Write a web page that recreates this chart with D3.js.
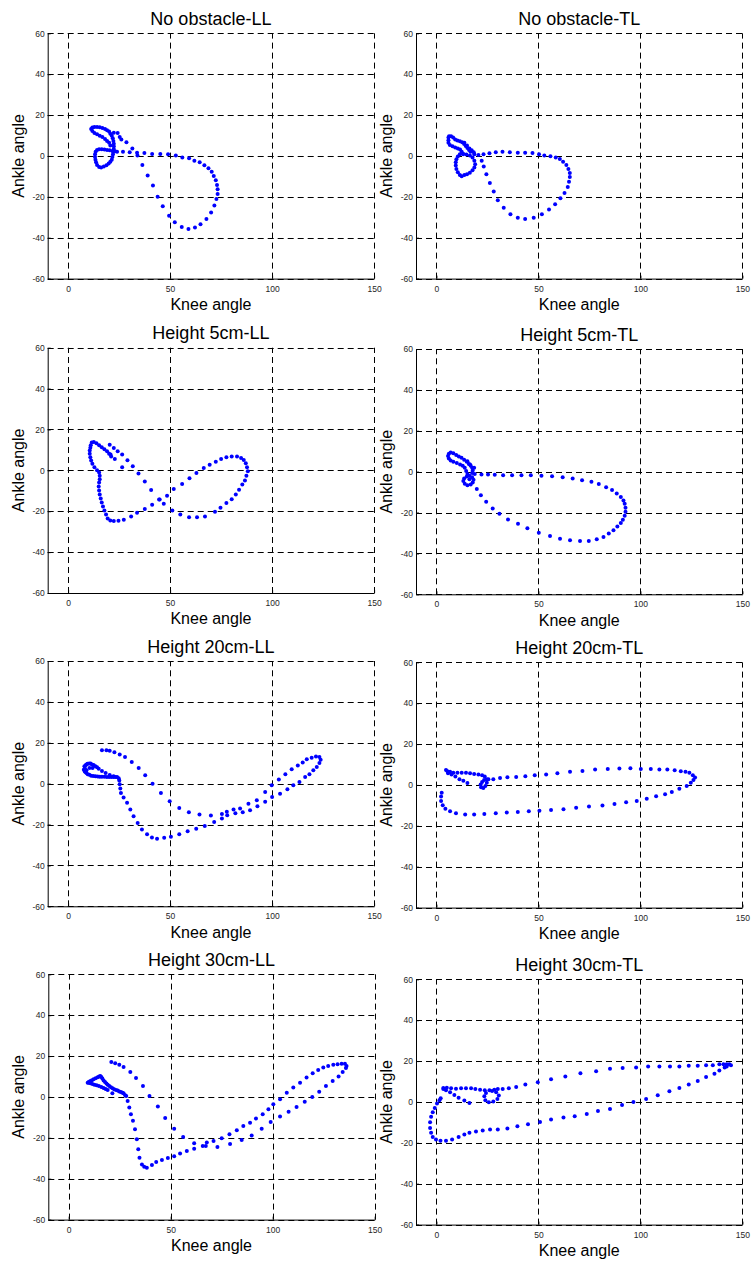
<!DOCTYPE html>
<html>
<head>
<meta charset="utf-8">
<script src="https://cdnjs.cloudflare.com/ajax/libs/d3/7.8.5/d3.min.js"></script>
<style>
body { margin: 0; background: #fff; }
text { font-family: "Liberation Sans", Arial, sans-serif; }
</style>
</head>
<body>
<div id="chart"></div>
<script>
// knee angle (x) vs ankle angle (y), one array per panel

var titles = ['No obstacle-LL', 'No obstacle-TL', 'Height 5cm-LL', 'Height 5cm-TL',
  'Height 20cm-LL', 'Height 20cm-TL', 'Height 30cm-LL', 'Height 30cm-TL'];
var xTicks = [0, 50, 100, 150];
var yTicks = [-60, -40, -20, 0, 20, 40, 60];
var xDomain = [-10, 150], yDomain = [-60, 60];

var noObstacleLL = [
  [11.3,13.2],[11.9,13.9],[12.9,14.2],[14.2,14.2],[15.5,14.0],[16.8,13.7],[18.1,13.2],[19.1,12.6],[20.1,11.9],[20.7,10.9],
  [21.4,9.9],[21.9,8.6],[22.2,7.3],[22.4,6.0],[22.4,4.7],[22.4,3.4],[22.2,2.1],[22.0,0.8],[21.7,-0.5],[21.4,-1.8],
  [20.7,-2.8],[19.9,-3.7],[18.8,-4.6],[17.5,-5.2],[16.2,-5.7],[15.2,-5.4],[14.2,-4.4],[13.7,-3.1],[13.4,-1.8],[13.2,-0.5],
  [13.2,0.8],[13.5,2.1],[14.2,2.9],[15.2,3.3],[16.5,3.3],[17.8,3.1],[19.1,2.9],[20.4,2.8],[21.7,2.4],[23.0,2.3],
  [11.9,12.2],[12.9,11.2],[14.2,10.6],[15.5,9.9],[16.8,9.3],[18.1,8.3],[19.1,7.3],[20.1,6.4],[20.7,5.1],
  [22.4,11.4],[24.3,11.2],[25.3,9.3],[26.1,8.0],[28.6,6.7],[31.5,3.7],
  [24.0,2.1],[26.9,2.1],[30.2,1.8],[33.8,1.6],[37.4,1.5],[41.2,1.0],[45.2,1.0],[49.0,0.8],[52.8,0.2],[56.0,-0.7],
  [59.3,-1.1],[61.9,-2.4],[64.5,-3.1],[66.8,-4.6],[68.8,-6.0],[70.4,-7.7],[71.4,-9.8],[72.4,-11.9],[73.0,-14.2],[73.3,-16.3],
  [73.3,-18.6],[72.7,-21.0],[71.7,-24.3],[70.1,-27.7],[67.8,-30.8],[64.9,-33.4],[62.2,-35.0],[59.0,-35.7],[55.7,-34.7],[52.3,-32.4],
  [49.5,-29.2],[46.4,-24.6],[43.9,-20.0],[41.6,-14.5],[39.0,-9.6],[36.4,-4.4],[34.0,0.2]
];

var noObstacleTL = [
  [5.9,9.0],[6.2,9.6],[7.2,9.6],[8.2,9.0],[9.2,8.0],[10.3,7.5],[11.5,7.2],[12.6,6.7],[13.6,5.9],[14.4,4.9],
  [15.2,3.9],[16.0,2.9],[16.7,2.1],[5.9,7.7],[5.9,6.4],[6.6,5.4],[7.9,4.7],[9.2,4.1],[10.5,3.6],[11.6,3.1],
  [12.4,2.1],[13.1,1.1],[13.7,6.4],[15.0,5.1],[16.2,3.7],[17.3,2.8],[18.3,1.8],
  [11.5,0.8],[10.5,-0.3],[9.8,-1.6],[9.5,-3.1],[9.5,-4.7],[9.8,-6.4],[10.5,-8.0],[11.5,-9.3],[12.4,-9.9],[13.7,-9.3],
  [15.0,-9.0],[16.4,-8.2],[17.7,-7.0],[18.6,-5.7],[19.0,-4.1],[18.6,-2.4],[17.7,-0.8],[16.4,0.2],[14.7,0.7],[13.1,0.8],[18.6,0.8],
  [20.6,0.5],[23.1,0.8],[26.0,1.3],[29.1,1.8],[32.4,2.0],[36.0,1.8],[39.9,1.6],[43.5,1.6],[47.1,1.5],[50.3,0.8],
  [52.9,0.2],[55.9,-0.2],[58.5,-0.8],[60.5,-1.5],[62.1,-2.8],[63.7,-4.4],[64.7,-6.4],[65.4,-8.3],[65.4,-10.3],[65.0,-12.6],
  [64.4,-15.2],[62.8,-18.1],[60.8,-20.7],[58.2,-23.6],[55.2,-26.2],[51.7,-28.5],[47.7,-30.2],[43.5,-30.8],[39.9,-30.2],[36.3,-28.5],
  [33.0,-25.3],[30.1,-21.7],[28.1,-17.4],[26.2,-13.2],[24.5,-9.0],[23.2,-5.2],[22.2,-2.3]
];

var height5LL = [
  [11.6,13.6],[12.6,13.9],[13.9,13.3],[15.2,12.3],[16.5,11.3],[17.8,10.3],[19.1,9.4],[20.1,8.1],[21.1,6.8],
  [11.1,12.3],[10.9,11.0],[10.6,9.7],[10.6,8.1],[10.9,6.4],[11.3,4.8],[11.9,3.2],[12.9,1.5],[14.2,0.1],[15.2,-1.1],
  [15.5,-2.7],[15.5,-4.3],[15.2,-5.9],[15.0,-7.9],[15.2,-9.9],[15.5,-11.8],[16.0,-13.8],[16.5,-15.7],[17.1,-17.7],[17.8,-19.6],
  [18.6,-21.6],[19.4,-23.5],[20.7,-24.5],[22.4,-24.8],[24.7,-24.7],[27.3,-24.2],[30.9,-22.6],[33.8,-20.8],[37.6,-18.9],[41.2,-16.8],
  [44.6,-14.3],[48.5,-12.4],[51.8,-9.1],[55.9,-6.7],[59.5,-3.9],[62.9,-1.3],[66.5,1.1],[69.4,2.8],[72.4,4.2],[75.0,5.5],
  [77.6,6.4],[80.2,6.8],[82.8,6.8],[84.8,6.1],[86.1,5.1],[87.1,3.5],[87.7,1.5],[88.1,-0.4],[87.4,-2.7],[86.7,-5.0],
  [85.4,-6.9],[83.8,-9.5],[82.2,-11.8],[80.2,-14.1],[77.6,-16.0],[74.7,-18.3],[72.0,-20.3],[67.1,-22.6],[63.2,-22.9],[59.3,-22.9],
  [55.0,-21.6],[51.1,-19.6],[46.9,-16.3],[44.9,-14.3],[40.7,-9.6],[37.6,-5.4],[34.5,-1.6],[31.7,2.0],[29.1,4.9],[26.5,7.7],
  [24.3,9.3],[22.4,10.9],[20.4,12.5],[20.8,7.7],[22.9,5.5],[26.5,1.5]
];

var height5TL = [
  [5.7,7.7],[6.1,8.7],[7.0,9.4],[8.3,9.0],[9.7,8.1],[11.0,7.4],[12.3,6.8],[13.6,5.8],[14.9,4.8],[15.9,3.8],
  [16.8,2.9],[17.5,1.9],[17.8,0.6],[17.5,-0.7],[6.1,6.4],[7.0,5.5],[8.3,4.8],[10.0,4.2],[11.6,3.5],[12.9,2.9],
  [13.9,1.9],[14.6,0.3],[15.2,-1.1],[13.6,-3.3],[13.2,-4.6],[13.9,-5.9],[15.2,-6.6],[16.8,-6.3],[17.8,-5.3],[18.2,-4.0],
  [17.5,-2.7],[16.2,-2.0],[14.9,-2.4],[16.2,-3.7],[15.2,5.1],[16.5,3.5],[18.5,1.9],[18.8,-1.1],
  [22.1,-1.4],[25.3,-1.4],[28.6,-1.5],[32.7,-1.7],[37.1,-1.8],[41.7,-1.8],[46.3,-1.8],[51.5,-2.0],[56.7,-2.2],[61.9,-2.7],
  [66.8,-3.3],[71.4,-4.2],[76.0,-5.0],[79.6,-6.1],[83.2,-7.6],[86.1,-9.0],[88.4,-10.7],[90.4,-12.4],[91.7,-14.1],[92.3,-15.7],
  [92.7,-17.7],[92.7,-19.6],[92.3,-21.6],[91.4,-23.5],[90.4,-25.1],[88.7,-26.8],[86.8,-28.7],[84.5,-30.3],[81.9,-32.0],[78.6,-33.1],
  [74.7,-33.9],[70.4,-33.9],[65.5,-33.6],[60.6,-32.8],[55.7,-31.5],[50.2,-29.9],[44.6,-27.7],[40.0,-25.5],[35.1,-23.4],[30.9,-20.6],
  [27.6,-18.0],[24.4,-14.7],[21.8,-11.5],[19.8,-8.5]
];

var height20LL = [
  [16.6,16.3],[18.8,16.3],[20.4,16.1],[22.7,15.3],[25.3,14.2],[27.9,13.0],[31.2,10.6],[34.6,7.6],[37.8,4.1],[41.4,0.0],
  [45.5,-4.6],[49.8,-8.6],[54.5,-11.9],[59.2,-14.0],[64.4,-15.1],[70.0,-15.6],[75.4,-14.8],[77.8,-13.8],[81.1,-12.7],[84.3,-12.2],
  [88.4,-9.8],[92.5,-8.1],[96.6,-4.1],[99.8,-0.8],[103.3,2.0],[106.5,4.6],[109.6,7.0],[112.6,8.9],[115.0,10.4],[117.0,11.9],
  [119.4,12.7],[121.5,13.3],[123.2,13.0],[123.8,11.7],[123.2,10.1],[121.9,8.1],[120.2,6.5],[118.3,4.6],[116.2,3.3],[113.4,0.8],
  [110.4,-0.8],[107.5,-2.8],[103.9,-4.9],[100.0,-6.5],[96.6,-8.9],[92.8,-11.1],[89.2,-13.0],[85.6,-14.0],[82.0,-14.5],[78.0,-15.5],
  [75.4,-17.1],[71.6,-18.7],[67.0,-20.7],[62.8,-22.1],[58.6,-23.3],[54.5,-24.7],[50.4,-26.0],[47.1,-26.5],[43.6,-27.0],[41.1,-26.3],
  [38.7,-24.7],[36.2,-22.4],[34.1,-19.2],[32.1,-15.9],[30.5,-12.7],[28.9,-9.4],[27.2,-6.8],[25.9,-4.6],[25.6,-2.4],[25.3,-0.3],
  [25.1,1.6],[7.7,6.8],[8.0,8.5],[9.0,9.4],[10.3,9.8],[11.7,9.4],[13.4,8.5],[15.0,7.3],[16.6,6.2],[18.4,5.2],
  [20.4,4.2],[22.3,3.6],[24.0,3.3],[24.8,2.6],[8.5,5.7],[9.6,4.6],[11.3,3.9],[13.4,3.6],[15.5,3.4],[17.8,3.4],
  [20.1,3.3],[22.3,3.3],[9.0,6.5],[10.5,7.6],[12.0,7.6],
  [8.2,7.5],[8.6,9.0],[9.5,9.7],[11.0,9.8],[12.5,9.1],[14.2,8.0],[8.2,6.0],[9.0,5.2],[10.4,4.3],[12.3,3.7],
  [14.5,3.5],[16.6,3.4],[19.0,3.3],[21.2,3.3],[23.2,3.3]
];

var height20TL = [
  [27.9,2.8],[31.2,3.4],[34.8,3.8],[39.1,3.9],[43.6,4.2],[48.2,4.7],[53.8,5.1],[59.3,5.7],[65.5,6.4],[71.6,6.8],
  [77.8,7.5],[84.0,7.8],[89.7,8.0],[95.1,8.2],[100.2,7.8],[105.1,7.8],[109.3,7.5],[113.2,7.5],[116.8,7.2],[119.8,6.7],
  [122.1,6.4],[124.0,6.0],[125.7,4.7],[126.8,3.6],[126.0,2.4],[124.7,1.1],[122.7,-0.5],[119.1,-1.8],[115.4,-3.4],[112.1,-4.6],
  [107.7,-5.5],[103.1,-6.7],[98.2,-7.8],[93.0,-8.5],[87.3,-9.3],[81.4,-10.1],[74.8,-10.6],[68.5,-11.1],[62.3,-11.9],[56.2,-12.2],
  [50.5,-12.6],[45.3,-12.9],[39.9,-13.2],[34.5,-13.5],[29.1,-13.9],[23.5,-14.2],[18.5,-14.5],[14.1,-14.5],[9.6,-13.9],[6.7,-12.9],
  [4.4,-11.6],[3.1,-9.9],[2.3,-7.8],[2.3,-5.7],[2.6,-3.8],
  [4.7,7.3],[5.4,6.7],[6.7,6.4],[8.3,6.0],[10.3,6.0],[12.4,6.0],[14.5,6.0],[16.5,5.7],[18.5,5.4],[20.6,5.1],
  [22.4,4.7],[23.7,4.1],[24.7,2.8],[24.7,1.1],[24.0,-0.5],[23.0,-1.5],[21.9,-1.1],[21.7,0.2],[22.4,1.5],[23.4,2.4],
  [25.5,2.8],[5.7,5.7],[7.4,5.1],[9.3,4.1],[11.3,2.8],[13.2,2.0],[15.2,1.0]
];

var height30LL = [
  [20.9,17.1],[22.8,16.5],[24.8,15.7],[26.9,14.7],[30.2,12.2],[33.0,9.3],[36.4,5.4],[39.6,0.5],[43.7,-4.7],[47.3,-10.3],
  [51.7,-15.5],[56.1,-19.6],[61.5,-22.7],[65.7,-24.0],[67.2,-24.0],[72.9,-24.5],[79.1,-23.0],[84.8,-21.0],[89.7,-18.8],[94.6,-15.5],
  [99.0,-12.2],[103.6,-9.6],[107.8,-7.2],[111.7,-4.9],[115.7,-2.4],[119.4,0.0],[122.8,2.6],[126.1,5.4],[129.4,7.8],[132.3,10.0],
  [134.3,12.2],[135.9,14.2],[136.2,15.2],[135.4,16.3],[133.8,16.3],[131.8,16.0],[129.7,15.7],[127.2,15.2],[124.8,14.4],[122.3,13.2],
  [119.6,11.6],[116.6,9.5],[113.4,7.0],[110.1,4.6],[106.9,2.1],[103.6,-1.1],[100.3,-3.6],[97.9,-6.0],[95.1,-8.5],[91.8,-10.6],
  [88.9,-12.6],[85.6,-14.2],[82.4,-16.3],[78.8,-18.3],[75.0,-20.2],[71.0,-21.5],[67.7,-22.3],[61.5,-25.3],[57.9,-26.4],[54.6,-27.7],
  [51.7,-29.0],[48.6,-29.9],[45.7,-30.8],[42.9,-31.8],[40.8,-33.3],[38.3,-34.6],[37.0,-34.1],[35.9,-33.0],[34.7,-29.7],[34.1,-25.6],
  [33.4,-20.7],[32.5,-15.8],[31.5,-11.7],[30.5,-8.5],[29.7,-5.2],[28.9,-2.0],[28.2,0.5],
  [9.3,7.0],[10.6,7.8],[12.2,8.6],[14.2,9.6],[15.5,10.3],[16.5,9.0],[17.8,7.3],[19.1,6.0],[20.7,4.7],[22.3,3.8],
  [24.0,3.1],[25.6,2.4],[26.9,1.8],[27.7,0.8],[10.6,6.7],[12.6,6.0],[14.8,5.4],[17.1,4.4],[19.1,3.4],[21.4,1.8],
  [9.8,7.3],[11.4,8.2],[13.2,9.1],[14.9,10.0],[16.0,9.7],[17.1,8.1],[18.5,6.6],[19.9,5.3],[21.5,4.2],[23.2,3.4],
  [24.8,2.7],[26.3,2.1],[9.9,6.9],[11.6,6.3],[13.7,5.7],[16.0,4.9],[18.1,3.9]
];

var height30TL = [
  [32.5,6.3],[35.5,6.7],[39.1,7.3],[43.6,8.5],[49.7,9.6],[56.2,11.1],[63.2,12.5],[70.6,14.0],[78.3,15.0],[85.1,16.3],
  [91.3,16.6],[97.9,16.9],[103.8,17.4],[109.3,17.4],[114.5,17.4],[119.1,17.4],[123.7,17.7],[128.1,17.7],[132.2,17.9],[135.5,18.0],
  [138.7,18.4],[140.7,18.4],[142.3,18.4],[143.6,18.4],[144.4,18.0],[142.3,17.4],[141.3,16.9],[138.7,15.4],[136.3,13.8],[132.2,12.2],
  [128.1,10.2],[123.7,8.5],[119.1,6.8],[114.2,5.2],[108.5,3.3],[102.8,1.5],[96.6,0.0],[91.0,-1.5],[85.1,-3.4],[79.2,-4.4],
  [73.7,-5.9],[67.8,-7.0],[62.3,-7.6],[56.2,-8.6],[50.8,-9.8],[44.9,-10.9],[39.7,-11.9],[34.8,-13.0],[30.1,-13.5],[26.3,-13.5],
  [22.7,-14.0],[19.4,-14.5],[16.2,-15.1],[13.7,-15.9],[10.9,-17.1],[7.7,-18.4],[4.7,-19.0],[2.0,-19.0],[-0.2,-18.4],[-1.8,-17.1],
  [-2.6,-15.1],[-3.1,-12.7],[-3.1,-9.9],[-2.6,-7.3],[-1.8,-5.0],[-0.8,-2.9],[0.3,-0.8],[1.5,0.8],[2.1,1.8],
  [3.4,6.8],[5.1,7.0],[7.2,6.7],[9.6,6.5],[12.1,6.7],[14.5,6.7],[17.0,6.7],[19.1,6.3],[21.4,6.0],[23.7,5.7],
  [26.0,5.7],[28.4,6.0],[30.1,6.3],[3.4,6.3],[4.7,5.7],[6.7,4.7],[8.8,3.4],[10.9,2.0],[13.7,0.7],[16.2,-0.5],
  [24.3,4.4],[23.5,2.8],[24.0,0.8],[25.7,-0.2],[27.9,0.2],[29.9,1.5],[30.6,3.1],[29.3,4.7],[27.3,5.4]
];

var series = [noObstacleLL, noObstacleTL, height5LL, height5TL,
  height20LL, height20TL, height30LL, height30TL];

// where each panel's plot box sits on the page
var layout = [
  {left: 47.7, top: 33.3}, {left: 416, top: 33.3},
  {left: 47.7, top: 347.7}, {left: 416, top: 349},
  {left: 47.7, top: 661}, {left: 416, top: 662.3},
  {left: 48.3, top: 974.3}, {left: 416, top: 979.3}
];
var plotW = 326.4, plotH = 245.3;

var width = 751, height = 1261;
var svg = d3.select('#chart').append('svg')
  .attr('width', width)
  .attr('height', height);

series.forEach(function(data, i) {
  drawPanel(titles[i], data, layout[i]);
});

function drawPanel(title, data, pos) {
  var x = d3.scaleLinear().domain(xDomain).range([pos.left, pos.left + plotW]);
  var y = d3.scaleLinear().domain(yDomain).range([pos.top + plotH, pos.top]);
  var snap = v => Math.round(v) + 0.5;
  var g = svg.append('g');

  // dashed grid
  g.append('g').selectAll('line')
    .data(xTicks)
    .enter()
    .append('line')
    .attr('x1', d => snap(x(d))).attr('x2', d => snap(x(d)))
    .attr('y1', y(yDomain[0])).attr('y2', y(yDomain[1]))
    .attr('stroke', '#000')
    .attr('stroke-width', 1)
    .attr('stroke-dasharray', '6,4');

  g.append('g').selectAll('line')
    .data(yTicks)
    .enter()
    .append('line')
    .attr('x1', x(xDomain[0])).attr('x2', x(xDomain[1]))
    .attr('y1', d => snap(y(d))).attr('y2', d => snap(y(d)))
    .attr('stroke', '#000')
    .attr('stroke-width', 1)
    .attr('stroke-dasharray', '6,4');

  var yAxis = g.append('g')
    .attr('transform', 'translate(' + x(xDomain[0]) + ',0)')
    .call(d3.axisLeft(y).tickValues(yTicks).tickSize(-3).tickSizeOuter(0).tickPadding(3)
      .tickFormat(d => String(d)));

  var xAxis = g.append('g')
    .attr('transform', 'translate(0,' + y(yDomain[0]) + ')')
    .call(d3.axisBottom(x).tickValues(xTicks).tickSize(-3).tickSizeOuter(0).tickPadding(7));

  [xAxis, yAxis].forEach(function(a) {
    a.attr('font-family', null).attr('font-size', null);
    a.select('.domain').attr('stroke', '#000');
    a.selectAll('.tick line').attr('stroke', '#000');
    a.selectAll('.tick text').attr('fill', '#262626').style('font-size', '8.5px');
  });

  // points
  g.append('g').selectAll('circle')
    .data(data)
    .enter()
    .append('circle')
    .attr('cx', d => x(d[0]))
    .attr('cy', d => y(d[1]))
    .attr('r', 2)
    .attr('fill', '#0000ff');

  var cx = pos.left + plotW / 2;
  g.append('text')
    .attr('x', cx).attr('y', pos.top - 8.3)
    .attr('text-anchor', 'middle')
    .style('font-size', '18px')
    .text(title);

  g.append('text')
    .attr('x', cx).attr('y', pos.top + plotH + 31.3)
    .attr('text-anchor', 'middle')
    .style('font-size', '16px')
    .text('Knee angle');

  g.append('text')
    .attr('transform', 'translate(' + (pos.left - 24.2) + ',' + (pos.top + plotH / 2) + ') rotate(-90)')
    .attr('text-anchor', 'middle')
    .style('font-size', '16px')
    .text('Ankle angle');
}
</script>
</body>
</html>
